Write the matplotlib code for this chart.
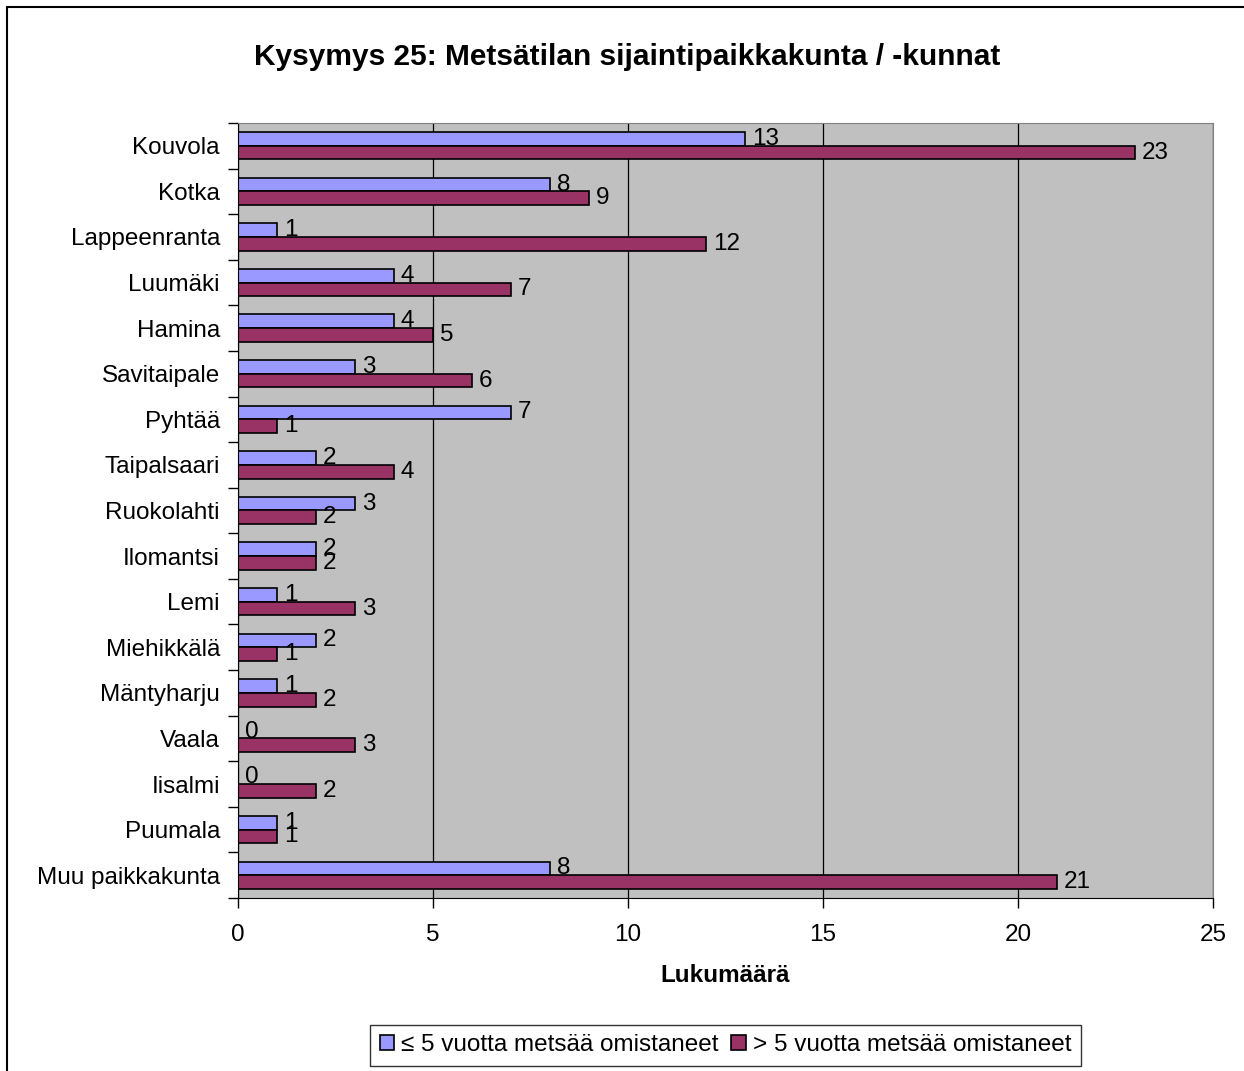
"""Kysymys 25 - metsätilan sijainti, vaakapylväät"""
import matplotlib.pyplot as plt
from matplotlib.patches import Rectangle
import numpy as np

plt.rcParams['font.family'] = ['Liberation Sans', 'DejaVu Sans']

categories = ['Kouvola', 'Kotka', 'Lappeenranta', 'Luumäki', 'Hamina',
              'Savitaipale', 'Pyhtää', 'Taipalsaari', 'Ruokolahti',
              'Ilomantsi', 'Lemi', 'Miehikkälä', 'Mäntyharju', 'Vaala',
              'Iisalmi', 'Puumala', 'Muu paikkakunta']
alle5 = [13, 8, 1, 4, 4, 3, 7, 2, 3, 2, 1, 2, 1, 0, 0, 1, 8]
yli5 = [23, 9, 12, 7, 5, 6, 1, 4, 2, 2, 3, 1, 2, 3, 2, 1, 21]
series_names = ['≤ 5 vuotta metsää omistaneet', '> 5 vuotta metsää omistaneet']
xticks = [0, 5, 10, 15, 20, 25]


def plot():
    """piirretään kuva"""
    fig = plt.figure(figsize=(12.44, 10.71), dpi=100)
    ax = fig.add_axes([0.1913, 0.1615, 0.7838, 0.7237])
    ax.set_facecolor('#C0C0C0')

    y = np.arange(len(categories))
    h = 0.3
    b1 = ax.barh(y - h / 2, alle5, height=h, color='#9999FF',
                 edgecolor='black', linewidth=1.2, label=series_names[0])
    b2 = ax.barh(y + h / 2, yli5, height=h, color='#993366',
                 edgecolor='black', linewidth=1.2, label=series_names[1])
    for bars, vals in ((b1, alle5), (b2, yli5)):
        for bar, v in zip(bars, vals):
            ax.annotate(str(v), (v, bar.get_y() + bar.get_height() / 2),
                        xytext=(5, 0), textcoords='offset points',
                        va='center', ha='left', fontsize=17.5)

    ax.set_ylim(len(categories) - 0.5, -0.5)
    ax.set_xlim(0, 25)
    ax.set_yticks(y)
    ax.set_yticklabels(categories, fontsize=17.5)
    ax.set_yticks(np.arange(len(categories) + 1) - 0.5, minor=True)
    ax.tick_params(axis='y', which='major', length=0, pad=13)
    ax.tick_params(axis='y', which='minor', length=7, width=1)
    ax.set_xticks(xticks)
    ax.set_xticklabels([str(t) for t in xticks], fontsize=17.5)
    ax.tick_params(axis='x', length=7, width=1, pad=12)
    ax.xaxis.grid(True, color='black', linewidth=0.9)
    ax.set_axisbelow(True)
    for side in ('top', 'right'):
        ax.spines[side].set_color('#808080')
    for side in ('left', 'bottom'):
        ax.spines[side].set_color('black')

    ax.set_xlabel('Lukumäärä', fontsize=17.5, fontweight='bold', labelpad=13)
    fig.text(0.5044, 0.947, 'Kysymys 25: Metsätilan sijaintipaikkakunta / -kunnat',
             ha='center', va='center', fontsize=21.5, fontweight='bold')

    leg = ax.legend(loc='center', bbox_to_anchor=(0.5, -0.19), ncol=2,
                    fontsize=17.5, frameon=True, fancybox=False,
                    edgecolor='black', handlelength=0.6, handleheight=0.6,
                    handletextpad=0.3, columnspacing=0.5, borderpad=0.4)
    leg.get_frame().set_linewidth(1)

    fig.patches.append(Rectangle((7 / 1244, -0.05), 1.1, 1 - 7 / 1071 + 0.05,
                                 transform=fig.transFigure, fill=False,
                                 edgecolor='black', linewidth=1.5))
    fig.savefig('out.png', dpi=100)


plot()
